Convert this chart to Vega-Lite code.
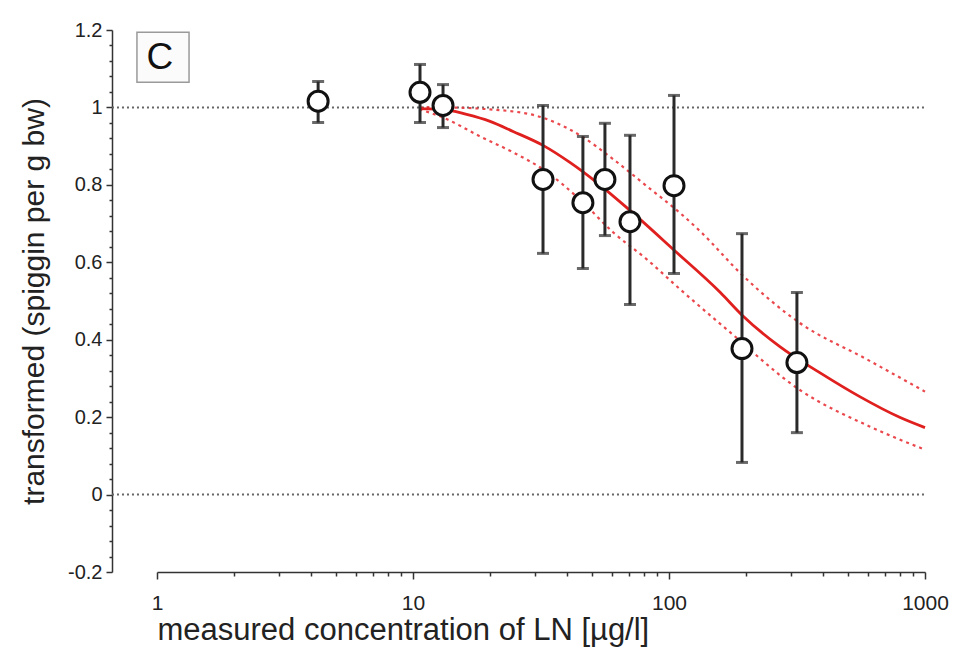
{
  "$schema": "https://vega.github.io/schema/vega-lite/v6.json",
  "width": 768,
  "height": 542,
  "autosize": "none",
  "padding": {"left": 157, "top": 30, "right": 31, "bottom": 78},
  "background": "white",
  "config": {"view": {"stroke": null}, "font": "Liberation Sans"},
  "datasets": {
    "points": [
      {"conc": 4.26, "val": 1.016, "lo": 0.961, "hi": 1.067},
      {"conc": 10.65, "val": 1.039, "lo": 0.961, "hi": 1.111},
      {"conc": 13.1, "val": 1.005, "lo": 0.948, "hi": 1.059},
      {"conc": 32.2, "val": 0.814, "lo": 0.623, "hi": 1.005},
      {"conc": 46.1, "val": 0.754, "lo": 0.584, "hi": 0.925},
      {"conc": 56.2, "val": 0.814, "lo": 0.669, "hi": 0.959},
      {"conc": 70.4, "val": 0.705, "lo": 0.491, "hi": 0.928},
      {"conc": 104.6, "val": 0.798, "lo": 0.571, "hi": 1.031},
      {"conc": 192.8, "val": 0.377, "lo": 0.083, "hi": 0.674},
      {"conc": 316, "val": 0.341, "lo": 0.16, "hi": 0.522}
    ],
    "fit": [
      {"conc": 10.6, "val": 0.997},
      {"conc": 13.1, "val": 0.995},
      {"conc": 16.2, "val": 0.982},
      {"conc": 20.0, "val": 0.964},
      {"conc": 24.6, "val": 0.938},
      {"conc": 32.2, "val": 0.902},
      {"conc": 41.0, "val": 0.858},
      {"conc": 52.3, "val": 0.806},
      {"conc": 70.4, "val": 0.734},
      {"conc": 104, "val": 0.633},
      {"conc": 158.7, "val": 0.522},
      {"conc": 194, "val": 0.462},
      {"conc": 271, "val": 0.382},
      {"conc": 388, "val": 0.315},
      {"conc": 556, "val": 0.253},
      {"conc": 800, "val": 0.199},
      {"conc": 1000, "val": 0.173}
    ],
    "ci": [
      {"band": "upper", "conc": 10.6, "val": 1.0},
      {"band": "upper", "conc": 13.1, "val": 1.0},
      {"band": "upper", "conc": 20.0, "val": 0.995},
      {"band": "upper", "conc": 30.5, "val": 0.978},
      {"band": "upper", "conc": 44.9, "val": 0.928},
      {"band": "upper", "conc": 60.6, "val": 0.866},
      {"band": "upper", "conc": 82.1, "val": 0.796},
      {"band": "upper", "conc": 110.6, "val": 0.727},
      {"band": "upper", "conc": 132.4, "val": 0.68},
      {"band": "upper", "conc": 194, "val": 0.566},
      {"band": "upper", "conc": 323, "val": 0.444},
      {"band": "upper", "conc": 594, "val": 0.349},
      {"band": "upper", "conc": 1000, "val": 0.266},
      {"band": "lower", "conc": 10.6, "val": 0.995},
      {"band": "lower", "conc": 13.1, "val": 0.974},
      {"band": "lower", "conc": 18.3, "val": 0.925},
      {"band": "lower", "conc": 24.6, "val": 0.884},
      {"band": "lower", "conc": 32.2, "val": 0.84},
      {"band": "lower", "conc": 44.9, "val": 0.762},
      {"band": "lower", "conc": 60.6, "val": 0.677},
      {"band": "lower", "conc": 82.1, "val": 0.607},
      {"band": "lower", "conc": 110.6, "val": 0.53},
      {"band": "lower", "conc": 168.5, "val": 0.426},
      {"band": "lower", "conc": 323, "val": 0.271},
      {"band": "lower", "conc": 607, "val": 0.176},
      {"band": "lower", "conc": 1000, "val": 0.116}
    ],
    "refs": [
      {"conc": 0.667, "conc2": 1000, "val": 1},
      {"conc": 0.667, "conc2": 1000, "val": 0}
    ],
    "box": [
      {"conc": 0.835, "conc2": 1.334, "val": 1.194, "val2": 1.065, "cx": 1.027, "cy": 1.128, "label": "C"}
    ]
  },
  "layer": [
    {
      "data": {"name": "refs"},
      "mark": {"type": "rule", "color": "#666", "strokeWidth": 2, "strokeDash": [2, 3]},
      "encoding": {
        "x": {
          "field": "conc", "type": "quantitative",
          "scale": {"type": "log", "domain": [1, 1000], "nice": false},
          "axis": {
            "title": "measured concentration of LN [µg/l]",
            "titleFontSize": 31, "titleFontWeight": "normal", "titleColor": "#222",
            "titleAnchor": "start", "titlePadding": 2,
            "tickCount": 100,
            "values": [1, 2, 3, 4, 5, 6, 7, 8, 9, 10, 20, 30, 40, 50, 60, 70, 80, 90, 100, 200, 300, 400, 500, 600, 700, 800, 900, 1000],
            "labelExpr": "indexof([1, 10, 100, 1000], datum.value) >= 0 ? datum.value + '' : ''",
            "labelFontSize": 21, "labelColor": "#222", "labelPadding": 13,
            "labelOverlap": false, "labelFlush": false, "labelBound": false,
            "tickSize": {"condition": {"test": "indexof([1, 10, 100, 1000], datum.value) >= 0", "value": 7}, "value": 4},
            "tickColor": "#333", "tickWidth": 1.5,
            "domainColor": "#333", "domainWidth": 1.5,
            "grid": false
          }
        },
        "x2": {"field": "conc2"},
        "y": {
          "field": "val", "type": "quantitative",
          "scale": {"domain": [-0.2, 1.2], "nice": false, "zero": false},
          "axis": {
            "title": "transformed (spiggin per g bw)",
            "titleFontSize": 30, "titleFontWeight": "normal", "titleColor": "#222",
            "titlePadding": 18,
            "offset": 45,
            "tickCount": 100,
            "values": [-0.2, -0.16, -0.12, -0.08, -0.04, 0, 0.04, 0.08, 0.12, 0.16, 0.2, 0.24, 0.28, 0.32, 0.36, 0.4, 0.44, 0.48, 0.52, 0.56, 0.6, 0.64, 0.68, 0.72, 0.76, 0.8, 0.84, 0.88, 0.92, 0.96, 1, 1.04, 1.08, 1.12, 1.16, 1.2],
            "labelExpr": "indexof([-0.2, 0, 0.2, 0.4, 0.6, 0.8, 1, 1.2], datum.value) >= 0 ? (datum.value < 0 ? '-' + format(-datum.value, '.1~f') : format(datum.value, '.1~f')) : ''",
            "labelFontSize": 20, "labelColor": "#222", "labelPadding": 4,
            "labelOverlap": false, "labelFlush": false, "labelBound": false,
            "tickSize": {"condition": {"test": "indexof([-0.2, 0, 0.2, 0.4, 0.6, 0.8, 1, 1.2], datum.value) >= 0", "value": 6}, "value": 3},
            "tickColor": "#333", "tickWidth": 1.5,
            "domainColor": "#333", "domainWidth": 1.5,
            "grid": false
          }
        }
      }
    },
    {
      "data": {"name": "ci"},
      "mark": {"type": "line", "color": "#e8343a", "strokeWidth": 2.2, "strokeDash": [3, 4], "interpolate": "monotone", "opacity": 0.9},
      "encoding": {
        "x": {"field": "conc", "type": "quantitative"},
        "y": {"field": "val", "type": "quantitative"},
        "detail": {"field": "band"}
      }
    },
    {
      "data": {"name": "fit"},
      "mark": {"type": "line", "color": "#e0201e", "strokeWidth": 2.8, "interpolate": "monotone"},
      "encoding": {
        "x": {"field": "conc", "type": "quantitative"},
        "y": {"field": "val", "type": "quantitative"}
      }
    },
    {
      "data": {"name": "points"},
      "mark": {"type": "rule", "color": "#2a2a2a", "strokeWidth": 3},
      "encoding": {
        "x": {"field": "conc", "type": "quantitative"},
        "y": {"field": "lo", "type": "quantitative"},
        "y2": {"field": "hi"}
      }
    },
    {
      "data": {"name": "points"},
      "mark": {"type": "tick", "orient": "horizontal", "color": "#2a2a2a", "size": 12, "thickness": 3},
      "encoding": {
        "x": {"field": "conc", "type": "quantitative"},
        "y": {"field": "hi", "type": "quantitative"}
      }
    },
    {
      "data": {"name": "points"},
      "mark": {"type": "tick", "orient": "horizontal", "color": "#2a2a2a", "size": 12, "thickness": 3},
      "encoding": {
        "x": {"field": "conc", "type": "quantitative"},
        "y": {"field": "lo", "type": "quantitative"}
      }
    },
    {
      "data": {"name": "points"},
      "mark": {"type": "point", "shape": "circle", "filled": false, "fill": "white", "fillOpacity": 1, "stroke": "#111", "strokeWidth": 3, "size": 400, "opacity": 1},
      "encoding": {
        "x": {"field": "conc", "type": "quantitative"},
        "y": {"field": "val", "type": "quantitative"}
      }
    },
    {
      "data": {"name": "box"},
      "mark": {"type": "rect", "fill": "#fbfbfb", "stroke": "#9a9a9a", "strokeWidth": 1.5},
      "encoding": {
        "x": {"field": "conc", "type": "quantitative"},
        "x2": {"field": "conc2"},
        "y": {"field": "val", "type": "quantitative"},
        "y2": {"field": "val2"}
      }
    },
    {
      "data": {"name": "box"},
      "mark": {"type": "text", "fontSize": 37, "color": "#111", "align": "center", "baseline": "middle"},
      "encoding": {
        "x": {"field": "cx", "type": "quantitative"},
        "y": {"field": "cy", "type": "quantitative"},
        "text": {"field": "label"}
      }
    }
  ]
}
